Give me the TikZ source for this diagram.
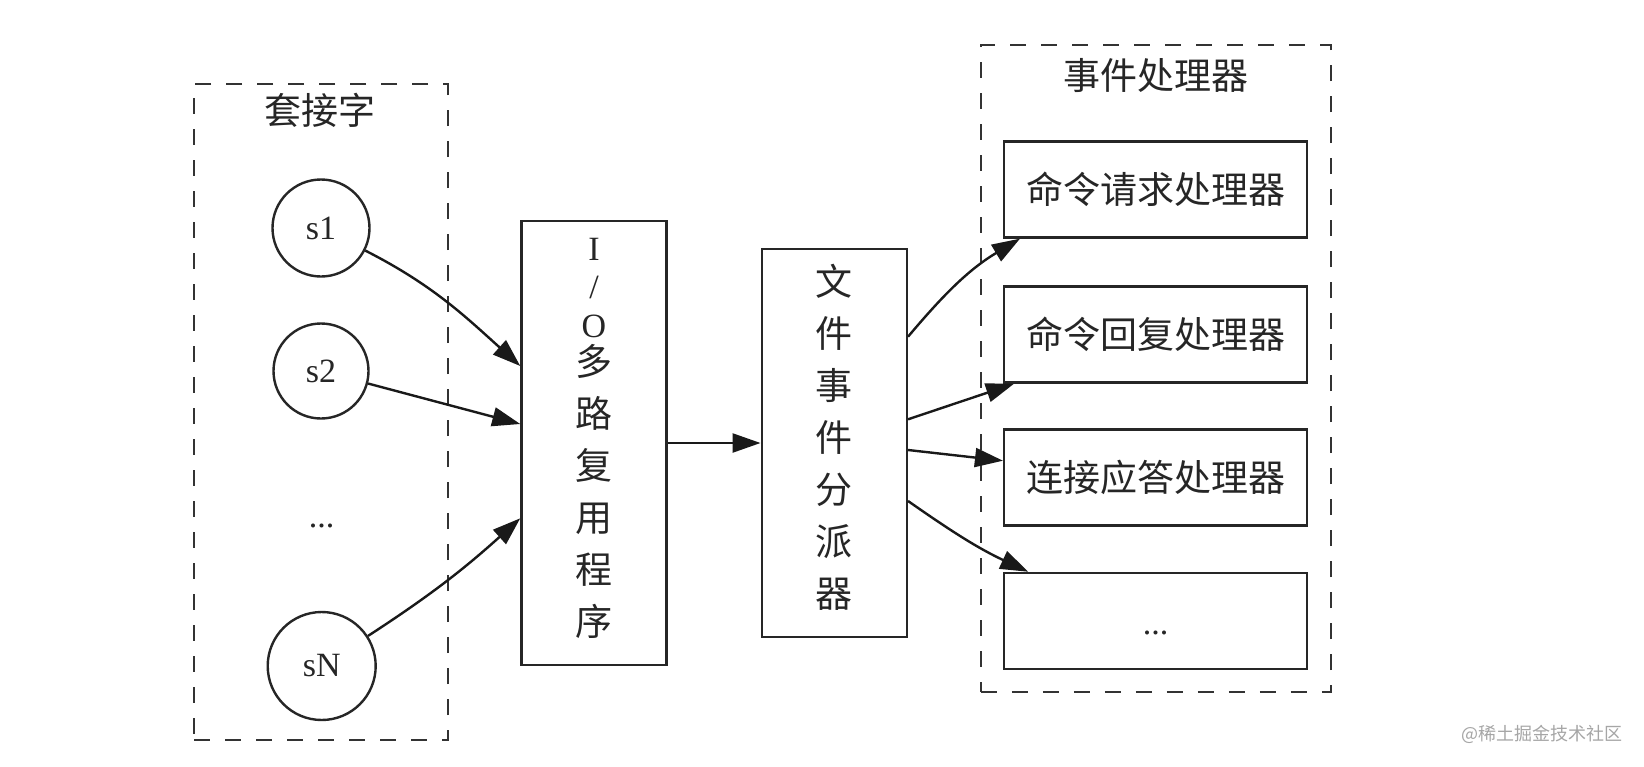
\documentclass[tikz,border=0pt]{standalone}
\usepackage{fontspec}
\setmainfont{Liberation Serif}
\newfontfamily\cjkfont{Noto Sans CJK SC}
\usetikzlibrary{arrows.meta}
\newcommand\mylat[1]{{\rmfamily\fontsize{34}{52}\selectfont #1}}
\begin{document}
\begin{tikzpicture}[x=1pt,y=1pt,
  grp/.style={draw=black!80, line width=2.8pt, dash pattern=on 16pt off 15pt, inner sep=0pt},
  sock/.style={draw=black!85, circle, line width=2.4pt, inner sep=0pt, minimum size=#1,
    font=\fontsize{34}{40}\selectfont, text=black!85},
  blk/.style={draw=black!85, rectangle, line width=2.5pt, inner sep=0pt,
    font=\cjkfont\fontsize{37}{52}\selectfont, text=black!85},
  lbl/.style={inner sep=0pt, font=\cjkfont\fontsize{37}{44}\selectfont, text=black!85},
  lat/.style={inner sep=0pt, font=\fontsize{34}{40}\selectfont, text=black!85},
  conn/.style={draw=black!90, line width=2.4pt, -{Triangle[length=28pt,width=19pt]}},
]
\useasboundingbox (0,0) rectangle (1644,-766);
\fill[white] (0,0) rectangle (1644,-766);

% groups
\node[grp, minimum width=254pt, minimum height=656pt] (sockets) at (321,-412) {};
\node[lbl] (socklbl) at (320,-110) {套接字};
\node[grp, minimum width=350pt, minimum height=647pt] (handlers) at (1155.9,-368.5) {};
\node[lbl] (handlbl) at (1155.5,-75.5) {事件处理器};

% sockets
\node[sock=97pt] (s1) at (321,-228) {s1};
\node[sock=95pt] (s2) at (321,-371) {s2};
\node[lat] (sdots) at (321.7,-525.7) {...};
\node[sock=108pt] (sN) at (321.7,-666) {sN};

% multiplexer and dispatcher
\node[blk, minimum width=145pt, minimum height=444pt, align=center, text depth=12pt] (io) at (594,-443)
  {\mylat{I}\\[-14pt]\mylat{/}\\[-13pt]\mylat{O}\\[-14pt]多\\路\\复\\用\\程\\序};
\node[blk, minimum width=145pt, minimum height=388pt, align=center, text depth=13.4pt] (disp) at (834.3,-443)
  {文\\件\\事\\件\\分\\派\\器};

% handlers
\node[blk, minimum width=303pt, minimum height=96pt] (h1) at (1155.7,-189.4) {命令请求处理器};
\node[blk, minimum width=303pt, minimum height=96pt] (h2) at (1155.7,-334.5) {命令回复处理器};
\node[blk, minimum width=303pt, minimum height=96pt] (h3) at (1155.7,-477.5) {连接应答处理器};
\node[blk, minimum width=303pt, minimum height=96pt, font=\fontsize{34}{40}\selectfont] (h4) at (1155.7,-621) {\raisebox{-13pt}[0pt][0pt]{...}};

% watermark
\node[inner sep=0pt, font=\cjkfont\fontsize{18}{20}\selectfont, text=black!35] (wm) at (1542,-734) {@稀土掘金技术社区};

% connectors
\draw[conn] (s1) to[out=-27,in=138] (io.west |- 0,-366);
\draw[conn] (s2) -- (io.west |- 0,-424);
\draw[conn] (sN) to[out=33,in=-138] (io.west |- 0,-518.3);
\draw[conn] (io) -- (disp);
\draw[conn] (disp.east |- 0,-336.7) to[out=50,in=-149] (h1.south -| 1020,0);
\draw[conn] (disp.east |- 0,-419.3) -- (h2.south -| 1014,0);
\draw[conn] (disp.east |- 0,-450) -- (h3.west |- 0,-460.7);
\draw[conn] (disp.east |- 0,-501) to[out=-35,in=155] (h4.north -| 1028.3,0);
\end{tikzpicture}
\end{document}
